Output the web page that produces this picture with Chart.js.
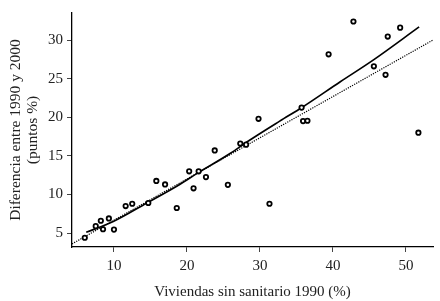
<!DOCTYPE html>
<html>
<head>
<meta charset="utf-8">
<script src="https://cdn.jsdelivr.net/npm/chart.js@4/dist/chart.umd.min.js"></script>
<style>
  html, body { margin: 0; padding: 0; background: #fff; }
  #wrap { width: 440px; height: 301px; }
</style>
</head>
<body>
<div id="wrap"><canvas id="scatterChart" width="440" height="301"></canvas></div>
<script>
// observed points (viviendas sin sanitario 1990 %, diferencia 1990-2000)
var pointsX = [6.0, 7.5, 8.2, 8.5, 9.3, 10.0, 11.6, 12.5, 14.7, 15.8, 17.0, 18.6, 20.3, 20.9, 21.6, 22.6,
               23.8, 25.6, 27.3, 28.1, 29.8, 31.3, 35.7, 35.9, 36.5, 39.4, 42.8, 45.6, 47.2, 47.5, 49.2, 51.7];
var pointsY = [4.4, 5.9, 6.6, 5.5, 6.9, 5.45, 8.5, 8.8, 8.9, 11.75, 11.3, 8.25, 13.0, 10.8, 13.0, 12.25,
               15.7, 11.25, 16.6, 16.45, 19.8, 8.8, 21.25, 19.5, 19.55, 28.15, 32.4, 26.6, 25.5, 30.45, 31.6, 18.0];

// smoothed curve (solid)
var smoothX = [6.2, 9.9, 14.5, 19.0, 21.5, 25.9, 28.2, 32.7, 35.8, 41.0, 45.5, 51.8];
var smoothY = [5.1, 6.5, 8.9, 11.3, 12.8, 15.3, 16.8, 19.5, 21.3, 24.6, 27.4, 31.7];

// linear fit (dotted), read at the plot edges
var fitX = [4.25, 53.7];
var fitY = [3.6, 30.0];

var xTicks = [10, 20, 30, 40, 50];
var yTicks = [5, 10, 15, 20, 25, 30];

function toXY(xs, ys) {
    return xs.map(function (x, i) { return { x: x, y: ys[i] }; });
}

var serif = "'Liberation Serif', 'DejaVu Serif', serif";
var textColor = "#222";

var ctx = document.getElementById("scatterChart").getContext('2d');
var myChart = new Chart(ctx, {
    type: 'scatter',
    data: {
        datasets: [{
            type: 'line',
            data: toXY(fitX, fitY),
            borderColor: "#000",
            borderWidth: 1.2,
            borderDash: [1.2, 1.2],
            pointRadius: 0,
            fill: false,
            order: 3
        }, {
            type: 'line',
            data: toXY(smoothX, smoothY),
            borderColor: "#000",
            borderWidth: 1.7,
            tension: 0.4,
            cubicInterpolationMode: 'monotone',
            pointRadius: 0,
            fill: false,
            order: 2
        }, {
            data: toXY(pointsX, pointsY),
            pointStyle: 'circle',
            pointRadius: 2.2,
            pointBorderWidth: 1.8,
            borderColor: "#000",
            backgroundColor: "#fff",
            order: 1
        }]
    },
    options: {
        responsive: false,
        animation: false,
        layout: {
            padding: { top: 4, right: 7, left: 0, bottom: 0 }
        },
        plugins: {
            legend: { display: false },
            tooltip: { enabled: false }
        },
        scales: {
            x: {
                type: 'linear',
                min: 4.25,
                max: 53.7,
                afterBuildTicks: function (s) {
                    s.ticks = xTicks.map(function (v) { return { value: v }; });
                },
                afterFit: function (s) { s.height = 54; },
                border: { display: true, color: "#000", width: 1.3 },
                grid: { drawOnChartArea: false, drawTicks: true, tickLength: 5, color: "#000", tickColor: "#444" },
                ticks: {
                    color: textColor,
                    padding: 5,
                    font: { family: serif, size: 15 }
                },
                title: {
                    display: true,
                    text: "Viviendas sin sanitario 1990 (%)",
                    color: textColor,
                    padding: { top: 4, bottom: 0 },
                    font: { family: serif, size: 15, lineHeight: 1.2 }
                }
            },
            y: {
                type: 'linear',
                min: 3.2,
                max: 33.5,
                afterBuildTicks: function (s) {
                    s.ticks = yTicks.map(function (v) { return { value: v }; });
                },
                afterFit: function (s) { s.width = 72; },
                border: { display: true, color: "#000", width: 1.3 },
                grid: { drawOnChartArea: false, drawTicks: true, tickLength: 5, color: "#000", tickColor: "#444" },
                ticks: {
                    color: textColor,
                    padding: 4,
                    font: { family: serif, size: 15 }
                },
                title: {
                    display: true,
                    text: ["Diferencia entre 1990 y 2000", "(puntos %)"],
                    color: textColor,
                    padding: { top: 7.5, bottom: 0 },
                    font: { family: serif, size: 15.5, lineHeight: 1.1 }
                }
            }
        }
    }
});
</script>
</body>
</html>
